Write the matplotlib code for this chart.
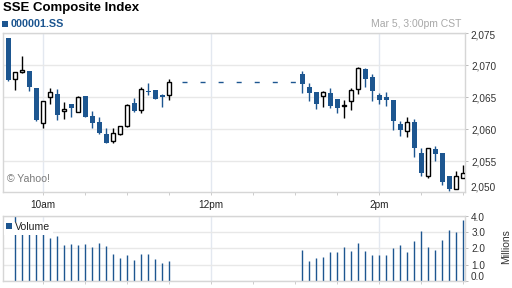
import numpy as np
import matplotlib.pyplot as plt
from matplotlib.patches import Rectangle

plt.rcParams['font.family'] = ['Liberation Sans', 'DejaVu Sans']

BLUE = '#1d5690'

# 5-minute bars, stamped at the end of each interval (minutes after midnight)
am_times = np.arange(575, 691, 5)    # 09:35 - 11:30
pm_times = np.arange(785, 901, 5)    # 13:05 - 15:00

am_open = [2074.31, 2067.81, 2068.95, 2069.11, 2066.45, 2060.94, 2065.00, 2065.52,
           2062.81, 2063.95, 2062.66, 2065.20, 2062.08, 2061.19, 2059.27, 2058.17,
           2059.22, 2060.47, 2064.11, 2062.97, 2066.05, 2066.09, 2065.31, 2065.36]
am_high = [2074.31, 2068.91, 2071.45, 2069.11, 2066.45, 2064.42, 2066.45, 2066.34,
           2064.27, 2063.95, 2065.16, 2065.20, 2062.86, 2061.88, 2060.25, 2060.20,
           2060.47, 2063.95, 2064.89, 2066.56, 2067.28, 2066.09, 2065.52, 2067.86]
am_low = [2067.55, 2066.09, 2068.84, 2066.03, 2061.34, 2060.25, 2064.00, 2061.45,
          2061.66, 2061.97, 2062.66, 2061.88, 2060.25, 2059.27, 2057.81, 2057.81,
          2059.11, 2060.31, 2062.66, 2062.59, 2065.36, 2064.69, 2063.53, 2064.63]
am_close = [2067.70, 2068.91, 2069.27, 2066.56, 2061.45, 2064.42, 2065.83, 2062.28,
            2063.17, 2063.33, 2065.05, 2061.97, 2060.94, 2059.38, 2057.91, 2059.38,
            2060.47, 2063.80, 2062.81, 2066.25, 2065.90, 2064.78, 2065.09, 2067.39]

pm_open = [2068.59, 2066.61, 2065.83, 2065.16, 2065.67, 2064.73, 2063.65, 2064.47,
           2066.25, 2069.42, 2068.17, 2065.31, 2065.05, 2064.58, 2060.83, 2059.78,
           2061.14, 2056.34, 2052.70, 2056.92, 2056.34, 2052.70, 2050.63, 2052.44]
pm_high = [2069.11, 2067.23, 2065.83, 2065.94, 2066.45, 2064.73, 2064.58, 2066.45,
           2069.78, 2069.58, 2068.64, 2065.72, 2065.83, 2064.58, 2061.34, 2061.92,
           2061.61, 2057.03, 2057.03, 2057.39, 2056.34, 2052.70, 2053.48, 2054.42]
pm_low = [2065.72, 2064.47, 2063.22, 2063.53, 2063.38, 2062.59, 2061.81, 2063.02,
          2065.56, 2066.66, 2064.47, 2063.91, 2063.64, 2059.89, 2058.91, 2058.84,
          2055.72, 2052.70, 2052.44, 2055.09, 2051.30, 2050.41, 2050.63, 2052.44]
pm_close = [2067.03, 2065.63, 2063.91, 2065.78, 2063.69, 2063.38, 2063.75, 2066.09,
            2069.53, 2067.91, 2066.03, 2064.63, 2064.63, 2061.34, 2059.89, 2061.14,
            2057.13, 2053.22, 2057.03, 2056.19, 2051.81, 2050.63, 2052.66, 2053.22]

# volume in millions (no bar shown for the first 9:35 candle)
am_vol = [np.nan, 4.6, 3.3, 3.1, 3.4, 3.2, 2.63, 2.73, 2.20, 2.27, 2.20, 2.27,
          2.08, 2.33, 2.14, 1.65, 1.41, 1.59, 1.29, 1.65, 1.65, 1.35, 1.10, 1.22]
pm_vol = [1.90, 1.22, 1.41, 1.47, 1.78, 1.78, 2.08, 1.84, 2.33, 1.84, 1.59, 1.59,
          1.59, 2.02, 2.20, 1.78, 2.45, 3.06, 2.08, 1.90, 2.51, 3.12, 3.00, 3.73]

times = np.concatenate([am_times, pm_times])
opens = np.array(am_open + pm_open)
highs = np.array(am_high + pm_high)
lows = np.array(am_low + pm_low)
closes = np.array(am_close + pm_close)
vols = np.array(am_vol + pm_vol)

W, H = 512, 288
fig = plt.figure(figsize=(W / 100, H / 100), dpi=100)


def fx(x):
    return x / W


def fy(y):
    return 1 - y / H


ax = fig.add_axes([fx(3), fy(192), (464.5 - 3) / W, (192 - 33.3) / H])
axv = fig.add_axes([fx(3), fy(281), (464.5 - 3) / W, (281 - 215.5) / H])

for a in (ax, axv):
    a.set_xlim(571.2, 900.9)
    for s in a.spines.values():
        s.set_color('#d6d6d6')
        s.set_linewidth(1.0)
    a.yaxis.tick_right()
    a.tick_params(axis='y', length=2.5, width=0.7, color='#bbbbbb', pad=2.5,
                  labelsize=7.2, labelcolor='#333333')
    a.set_xticks([600, 720, 840])
    a.set_xticks(np.arange(630, 901, 30), minor=True)
    a.tick_params(axis='x', which='both', length=2.5, width=0.7, color='#cccccc',
                  labelbottom=False)
    a.grid(axis='y', color='#e8e8e8', lw=1.0)
    for t in (600, 720, 840):
        a.axvline(t, color='#e3e8f0', lw=1.0, zorder=0.5)
    a.set_axisbelow(True)

ax.set_xticklabels(['10am', '12pm', '2pm'])
ax.tick_params(axis='x', labelbottom=True, pad=3.2, labelsize=7.2, labelcolor='#222222')

# candles
ax.set_ylim(2050.2, 2075)
ax.set_yticks([2055, 2060, 2065, 2070, 2075], ['2,055', '2,060', '2,065', '2,070', ''])
up = closes >= opens
ax.vlines(times, lows, highs, colors=np.where(up, 'black', BLUE), lw=1.0, zorder=2)
ax.bar(times[~up], (opens - closes)[~up], bottom=closes[~up], width=3.6,
       color=BLUE, lw=0, zorder=3)
ax.bar(times[up], (closes - opens)[up], bottom=opens[up], width=2.6,
       facecolor='white', edgecolor='black', lw=1.0, zorder=3)
ax.hlines(am_close[-1], 699, 781, colors=BLUE, lw=1.0, ls=(0, (3.6, 9.4)), zorder=2)
ax.text(0.009, 0.06, '\u00a9 Yahoo!', transform=ax.transAxes, size=7.6, color='#7a7a7a')

fig.text(fx(470.5), fy(35.5), '2,075', size=7.2, color='#333333', va='center')
fig.text(fx(470.5), fy(187.5), '2,050', size=7.2, color='#333333', va='center')

# volume
axv.set_ylim(0, 4)
axv.set_yticks([0, 1, 2, 3, 4], ['', '1.0', '2.0', '3.0', ''])
axv.vlines(times, 0, vols, colors=BLUE, lw=1.0, zorder=2)
axv.add_patch(Rectangle((fx(3.5), fy(234.5)), fx(53) - fx(3.5), (234.5 - 221.5) / H,
                        transform=fig.transFigure, facecolor='white', lw=0, zorder=5))
fig.text(fx(470.5), fy(218), '4.0', size=7.2, color='#333333', va='center')
fig.text(fx(470.5), fy(276.7), '0.0', size=7.2, color='#333333', va='center')
fig.add_artist(Rectangle((fx(6), fy(228.7)), 6 / W, 6 / H, transform=fig.transFigure,
                         facecolor=BLUE, lw=0))
fig.text(fx(14.5), fy(229.7), 'Volume', size=7.6, color='#222222', va='baseline')
fig.text(fx(506), fy(247), 'Millions', rotation=90, size=7.5, color='#333333',
         ha='center', va='center')

# header
fig.text(fx(3), fy(10.5), 'SSE Composite Index', size=9.5, weight='bold', va='baseline')
fig.add_artist(Rectangle((fx(2), fy(26.7)), 6 / W, 6 / H, transform=fig.transFigure,
                         facecolor=BLUE, lw=0))
fig.text(fx(11), fy(26.7), '000001.SS', size=7.8, weight='bold', color=BLUE, va='baseline')
fig.text(fx(461.7), fy(26.7), 'Mar 5, 3:00pm CST', size=7.5, color='#a8a8a8',
         ha='right', va='baseline')

fig.savefig('out.png', dpi=100)
